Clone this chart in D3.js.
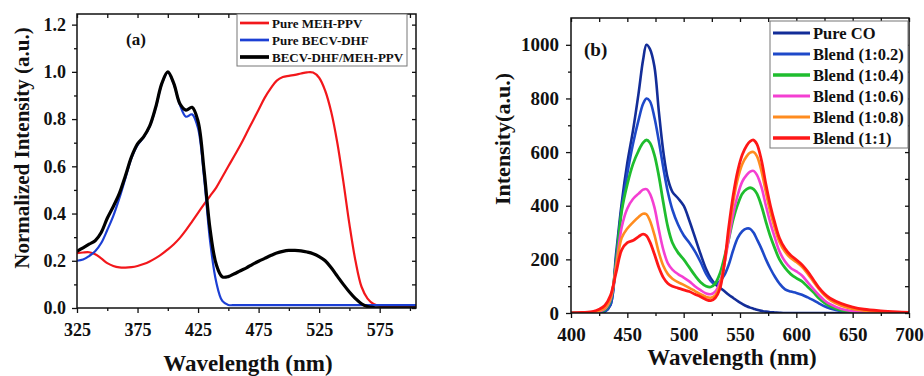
<!DOCTYPE html>
<html>
<head>
<meta charset="utf-8">
<script src="https://cdn.jsdelivr.net/npm/d3@7"></script>
<style>
  body { margin: 0; background: #fff; }
  text { font-family: "Liberation Serif", "Times New Roman", serif; font-weight: bold; fill: #111; }
</style>
</head>
<body>
<svg id="chart" width="924" height="376"></svg>
<script>
// ---- panel (a) data ----
var wlA = d3.range(325, 606, 5);
var mehPPV = [0.232, 0.235, 0.236, 0.228, 0.21, 0.19, 0.178, 0.172, 0.171, 0.173, 0.178, 0.186, 0.197, 0.211, 0.228,
  0.248, 0.27, 0.297, 0.33, 0.366, 0.403, 0.44, 0.475, 0.51, 0.555, 0.6, 0.645, 0.69, 0.74, 0.79,
  0.84, 0.89, 0.93, 0.963, 0.978, 0.983, 0.987, 0.993, 0.998, 0.997, 0.975, 0.92, 0.83, 0.7, 0.535,
  0.355, 0.2, 0.09, 0.04, 0.017, 0.01, 0.01, 0.01, 0.01, 0.01, 0.01, 0.01];
var becvDHF = [0.2, 0.205, 0.22, 0.24, 0.275, 0.33, 0.39, 0.465, 0.55, 0.635, 0.69, 0.722, 0.768, 0.848, 0.948,
  0.998, 0.948, 0.86, 0.81, 0.82, 0.76, 0.55, 0.28, 0.11, 0.03, 0.013, 0.012, 0.012, 0.012, 0.012,
  0.012, 0.012, 0.012, 0.012, 0.012, 0.012, 0.012, 0.012, 0.012, 0.012, 0.012, 0.012, 0.012, 0.012, 0.012,
  0.012, 0.012, 0.012, 0.012, 0.012, 0.012, 0.012, 0.012, 0.012, 0.012, 0.012, 0.012];
var blendA = [0.24, 0.255, 0.27, 0.285, 0.32, 0.38, 0.43, 0.485, 0.56, 0.64, 0.695, 0.725, 0.77, 0.85, 0.95,
  1.0, 0.95, 0.865, 0.838, 0.85, 0.79, 0.58, 0.33, 0.185, 0.132, 0.133, 0.145, 0.158, 0.17, 0.185,
  0.198, 0.21, 0.222, 0.233, 0.24, 0.244, 0.244, 0.242, 0.237, 0.23, 0.218, 0.2, 0.17, 0.135, 0.1,
  0.068, 0.04, 0.018, 0.006, 0.002, 0.001, 0.001, 0.001, 0.001, 0.001, 0.001, 0.001];
var namesA = ["Pure MEH-PPV", "Pure BECV-DHF", "BECV-DHF/MEH-PPV"];
var xTicksA = [325, 375, 425, 475, 525, 575];
var yTicksA = [0, 0.2, 0.4, 0.6, 0.8, 1.0, 1.2];

// ---- panel (b) data ----
var wlB = [400, 410, 420, 425, 430, 435, 440, 445, 450, 455, 460, 464, 467, 470, 474, 478, 482, 486, 490, 495,
  500, 505, 510, 515, 520, 524, 528, 532, 536, 540, 544, 548, 552, 556, 559, 562, 565, 569, 573, 577,
  581, 585, 590, 595, 600, 605, 610, 615, 620, 625, 630, 640, 650, 660, 675, 690, 700];
var pureCO = [0, 0, 0, 1, 5, 30, 220, 410, 560, 680, 820, 944, 1000, 985, 920, 750, 600, 500, 452, 428,
  400, 345, 283, 220, 163, 130, 108, 95, 82, 68, 56, 44, 34, 25, 20, 16, 12, 8, 5, 3,
  2, 1, 0, 0, 0, 0, 0, 0, 0, 0, 0, 0, 0, 0, 0, 0, 0];
var blend02 = [0, 0, 0, 1, 5, 30, 200, 390, 520, 630, 720, 780, 800, 790, 730, 640, 540, 450, 385, 330,
  290, 262, 230, 190, 145, 120, 108, 118, 140, 180, 235, 280, 305, 315, 314, 300, 275, 240, 200, 165,
  135, 110, 88, 80, 75, 68, 58, 48, 36, 25, 17, 7, 3, 1, 0, 0, 0];
var blend04 = [0, 0, 2, 5, 12, 45, 190, 380, 480, 555, 605, 635, 645, 635, 590, 510, 410, 320, 262, 225,
  200, 170, 140, 115, 100, 97, 110, 145, 205, 275, 350, 405, 445, 462, 467, 462, 445, 400, 340, 285,
  240, 200, 168, 145, 130, 118, 98, 78, 55, 38, 25, 10, 4, 2, 1, 0, 0];
var blend06 = [0, 1, 3, 6, 15, 50, 175, 320, 390, 425, 445, 460, 462, 445, 395, 310, 235, 185, 162, 145,
  132, 118, 100, 85, 73, 70, 80, 112, 180, 275, 370, 440, 490, 515, 527, 530, 515, 470, 400, 335,
  280, 230, 192, 168, 155, 140, 115, 90, 67, 47, 33, 15, 7, 3, 1, 0, 0];
var blend08 = [0, 1, 4, 8, 18, 55, 165, 280, 315, 338, 358, 370, 368, 345, 292, 225, 175, 145, 128, 115,
  105, 94, 82, 70, 60, 57, 66, 100, 180, 300, 415, 500, 555, 585, 598, 600, 585, 530, 450, 375,
  315, 265, 228, 205, 190, 172, 147, 118, 90, 66, 48, 27, 15, 9, 4, 2, 1];
var blend10 = [0, 2, 6, 14, 28, 65, 150, 235, 262, 270, 285, 294, 288, 265, 220, 170, 132, 110, 100, 93,
  86, 80, 70, 61, 50, 46, 56, 88, 180, 320, 440, 530, 590, 625, 640, 645, 630, 570, 480, 400,
  335, 280, 240, 215, 198, 180, 155, 125, 95, 72, 55, 35, 22, 14, 8, 4, 2];
var namesB = ["Pure CO", "Blend (1:0.2)", "Blend (1:0.4)", "Blend (1:0.6)", "Blend (1:0.8)", "Blend (1:1)"];
var xTicksB = [400, 450, 500, 550, 600, 650, 700];
var yTicksB = [0, 200, 400, 600, 800, 1000];

var svg = d3.select("#chart");
svg.append("rect").attr("width", 924).attr("height", 376).attr("fill", "#fff");

function drawPanel(p) {
  var x = d3.scaleLinear().domain(p.xDomain).range([p.left, p.right]);
  var y = d3.scaleLinear().domain(p.yDomain).range([p.bottom, p.top]);
  var g = svg.append("g");

  // minor + major ticks, outward on bottom/left, inward on top/right
  var axes = [
    [d3.axisBottom(x).tickValues(p.xMinor).tickSize(3).tickFormat(""), "translate(0," + p.bottom + ")"],
    [d3.axisTop(x).tickValues(p.xMinor.concat(p.xTicks)).tickSize(-4).tickFormat(""), "translate(0," + p.top + ")"],
    [d3.axisLeft(y).tickValues(p.yMinor).tickSize(3).tickFormat(""), "translate(" + p.left + ",0)"],
    [d3.axisRight(y).tickValues(p.yMinor.concat(p.yTicks)).tickSize(-4).tickFormat(""), "translate(" + p.right + ",0)"]
  ];
  axes.forEach(function (a) {
    g.append("g").attr("transform", a[1]).call(a[0]).call(function (s) { s.select(".domain").remove(); });
  });

  var xAxis = g.append("g").attr("transform", "translate(0," + p.bottom + ")")
    .call(d3.axisBottom(x).tickValues(p.xTicks).tickSize(5).tickPadding(p.xPad).tickFormat(d3.format("d")));
  xAxis.select(".domain").remove();
  xAxis.selectAll("text").attr("font-size", p.tickFont).style("fill", "#111");

  var yAxis = g.append("g").attr("transform", "translate(" + p.left + ",0)")
    .call(d3.axisLeft(y).tickValues(p.yTicks).tickSize(5).tickPadding(p.yPad).tickFormat(p.yFormat));
  yAxis.select(".domain").remove();
  yAxis.selectAll("text").attr("font-size", p.tickFont).style("fill", "#111");

  g.selectAll(".tick line").attr("stroke", "#111").attr("stroke-width", 1.3);

  // curves
  var clipId = "clip" + p.id;
  svg.append("clipPath").attr("id", clipId).append("rect")
    .attr("x", p.left).attr("y", p.top).attr("width", p.right - p.left).attr("height", p.bottom - p.top);
  var line = d3.line()
    .x(function (d) { return x(d[0]); })
    .y(function (d) { return y(d[1]); })
    .curve(d3.curveCatmullRom.alpha(0.5));
  var lines = g.append("g").attr("clip-path", "url(#" + clipId + ")");
  p.series.forEach(function (s) {
    lines.append("path")
      .datum(p.wl.map(function (w, i) { return [w, s.values[i]]; }))
      .attr("fill", "none")
      .attr("stroke", s.color)
      .attr("stroke-width", s.width)
      .attr("stroke-linejoin", "round")
      .attr("d", line);
  });

  // frame
  g.append("rect").attr("x", p.left).attr("y", p.top)
    .attr("width", p.right - p.left).attr("height", p.bottom - p.top)
    .attr("fill", "none").attr("stroke", "#111").attr("stroke-width", 1.5);

  // titles
  g.append("text").attr("x", p.xTitle[0]).attr("y", p.xTitle[1])
    .attr("text-anchor", "middle").attr("font-size", 23).text("Wavelength (nm)");
  g.append("text").attr("transform", "translate(" + p.yTitle[0] + "," + p.yTitle[1] + ") rotate(-90)")
    .attr("text-anchor", "middle").attr("font-size", p.yTitleFont).text(p.yLabel);
  g.append("text").attr("x", p.tag[0]).attr("y", p.tag[1])
    .attr("font-size", p.tag[2]).text(p.tagText);

  // legend
  var L = p.legend;
  g.append("rect").attr("x", L.x).attr("y", L.y).attr("width", L.w).attr("height", L.h)
    .attr("fill", "#fff").attr("stroke", "#777").attr("stroke-width", 1);
  p.series.forEach(function (s, i) {
    var ly = L.y0 + i * L.step;
    g.append("line").attr("x1", L.x + 3).attr("x2", L.x + L.lineLen)
      .attr("y1", ly).attr("y2", ly).attr("stroke", s.color).attr("stroke-width", s.width + 0.5);
    g.append("text").attr("x", L.x + L.lineLen + 3).attr("y", ly).attr("dy", "0.35em")
      .attr("font-size", L.font).text(s.name);
  });
}

drawPanel({
  id: "a", left: 77, right: 416, top: 14, bottom: 308,
  xDomain: [325, 605], yDomain: [0, 1.245],
  xTicks: xTicksA, xMinor: [350, 400, 450, 500, 550, 600],
  yTicks: yTicksA, yMinor: [0.1, 0.3, 0.5, 0.7, 0.9, 1.1],
  yFormat: d3.format(".1f"), tickFont: 18, xPad: 10, yPad: 6,
  wl: wlA,
  series: [
    { name: namesA[0], values: mehPPV, color: "#f2171b", width: 2.2 },
    { name: namesA[1], values: becvDHF, color: "#1c3fd4", width: 2.2 },
    { name: namesA[2], values: blendA, color: "#000", width: 3.2 }
  ],
  xTitle: [248, 371], yTitle: [29, 148], yTitleFont: 21, yLabel: "Normalized Intensity (a.u.)",
  tag: [126, 45, 17], tagText: "(a)",
  legend: { x: 237, y: 14, w: 170, h: 52, y0: 23, step: 17, lineLen: 32, font: 13 }
});

drawPanel({
  id: "b", left: 571, right: 909, top: 18, bottom: 313,
  xDomain: [400, 700], yDomain: [0, 1100],
  xTicks: xTicksB, xMinor: [425, 475, 525, 575, 625, 675],
  yTicks: yTicksB, yMinor: [100, 300, 500, 700, 900],
  yFormat: d3.format("d"), tickFont: 19, xPad: 10, yPad: 7,
  wl: wlB,
  series: [
    { name: namesB[0], values: pureCO, color: "#132d98", width: 2.6 },
    { name: namesB[1], values: blend02, color: "#1e49c9", width: 2.6 },
    { name: namesB[2], values: blend04, color: "#1fbd2e", width: 2.8 },
    { name: namesB[3], values: blend06, color: "#f43fd2", width: 2.6 },
    { name: namesB[4], values: blend08, color: "#ff8c1f", width: 2.6 },
    { name: namesB[5], values: blend10, color: "#ff1717", width: 2.8 }
  ],
  xTitle: [732, 365], yTitle: [510, 139], yTitleFont: 22, yLabel: "Intensity(a.u.)",
  tag: [584, 56, 19], tagText: "(b)",
  legend: { x: 770, y: 21, w: 138, h: 127, y0: 33, step: 21, lineLen: 40, font: 16.5 }
});
</script>
</body>
</html>
